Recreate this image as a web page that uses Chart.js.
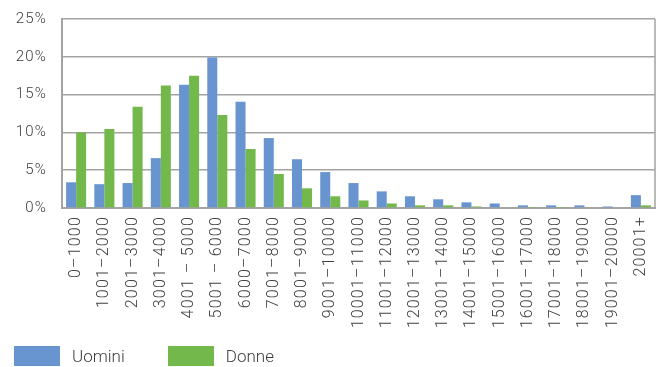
<!DOCTYPE html>
<html>
<head>
<meta charset="utf-8">
<script src="https://cdn.jsdelivr.net/npm/chart.js@4/dist/chart.umd.min.js"></script>
<style>
  html, body { margin: 0; padding: 0; background: #fff; }
  #wrap { position: relative; width: 665px; height: 367px; }
  #legend { position: absolute; left: 14px; top: 346px; display: flex; font-family: Roboto, sans-serif; font-weight: 300; font-size: 17px; color: #404040; }
  #legend .item { display: flex; align-items: center; margin-right: 43px; }
  #legend .box { width: 46px; height: 20px; margin-right: 12px; }
</style>
</head>
<body>
<div id="wrap">
  <canvas id="chart" width="665" height="367"></canvas>
  <div id="legend"></div>
</div>
<script>
const categories = [
  '0–1000', '1001–2000', '2001–3000', '3001–4000', '4001 – 5000', '5001 – 6000',
  '6000–7000', '7001–8000', '8001–9000', '9001–10000', '10001–11000', '11001–12000',
  '12001–13000', '13001–14000', '14001–15000', '15001–16000', '16001–17000',
  '17001–18000', '18001–19000', '19001–20000', '20001+'
];
const uomini = [3.4, 3.15, 3.3, 6.6, 16.3, 19.9, 14.05, 9.25, 6.45, 4.75, 3.3, 2.2, 1.55, 1.15, 0.75, 0.6, 0.35, 0.35, 0.35, 0.2, 1.7];
const donne = [10.0, 10.45, 13.4, 16.2, 17.5, 12.3, 7.8, 4.5, 2.6, 1.55, 1.0, 0.6, 0.35, 0.35, 0.2, 0.1, 0.05, 0.05, 0.0, 0.0, 0.35];
const yTicks = [0, 5, 10, 15, 20, 25];

const gray = '#a3a3a3';
const textColor = '#404040';

// spaziatura dei caratteri come nell'originale + cornice a destra
const framePlugin = {
  id: 'frame',
  beforeDraw(chart) {
    chart.ctx.letterSpacing = '1.2px';
  },
  afterDraw(chart) {
    const { ctx, chartArea } = chart;
    ctx.save();
    ctx.strokeStyle = gray;
    ctx.lineWidth = 1.5;
    ctx.beginPath();
    ctx.moveTo(chartArea.right, chartArea.top);
    ctx.lineTo(chartArea.right, chartArea.bottom);
    ctx.stroke();
    ctx.restore();
  }
};

const chart = new Chart(document.getElementById('chart'), {
  type: 'bar',
  data: {
    labels: categories,
    datasets: [
      { label: 'Uomini', data: uomini, backgroundColor: '#6894cf' },
      { label: 'Donne', data: donne, backgroundColor: '#73b84b' }
    ]
  },
  options: {
    responsive: false,
    animation: false,
    categoryPercentage: 0.71,
    barPercentage: 1.0,
    layout: { padding: { top: 19, right: 10, left: 0, bottom: 0 } },
    plugins: {
      legend: { display: false },
      tooltip: { enabled: false }
    },
    scales: {
      x: {
        grid: { display: false, drawTicks: false },
        border: { color: gray, width: 2 },
        ticks: {
          color: textColor,
          font: { family: 'Roboto', weight: 300, size: 16 },
          minRotation: 90,
          maxRotation: 90,
          autoSkip: false,
          padding: 8
        },
        afterFit(scale) {
          scale.height = 159;
          scale.paddingLeft = 0;
          scale.paddingRight = 0;
        }
      },
      y: {
        min: 0,
        max: 25,
        afterBuildTicks(scale) { scale.ticks = yTicks.map(v => ({ value: v })); },
        grid: { color: gray, lineWidth: 1.5, drawTicks: false },
        border: { color: gray, width: 2 },
        ticks: {
          color: textColor,
          font: { family: 'Roboto', weight: 300, size: 15 },
          padding: 15,
          callback: v => v + '%'
        },
        afterFit(scale) {
          scale.width = 62;
          scale.paddingTop = 0;
          scale.paddingBottom = 0;
        }
      }
    }
  },
  plugins: [framePlugin]
});

// legenda in HTML costruita dai dataset
const legend = document.getElementById('legend');
chart.data.datasets.forEach(ds => {
  const item = document.createElement('div');
  item.className = 'item';
  item.innerHTML = '<span class="box" style="background:' + ds.backgroundColor + '"></span><span>' + ds.label + '</span>';
  legend.appendChild(item);
});
</script>
</body>
</html>
